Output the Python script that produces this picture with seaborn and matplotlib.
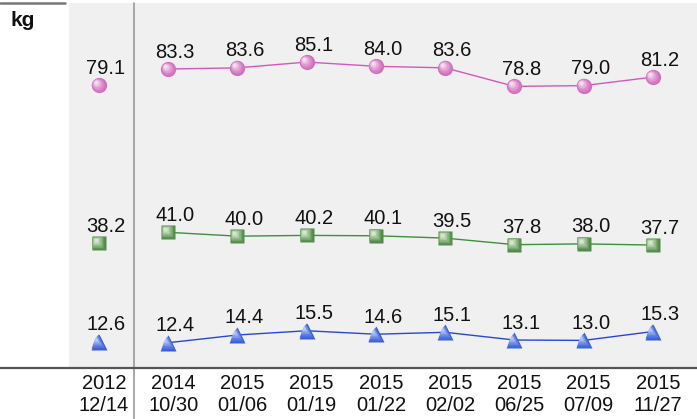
import matplotlib
matplotlib.use("Agg")
import matplotlib.pyplot as plt
import matplotlib.transforms as mtransforms
from matplotlib.colors import to_rgb
from matplotlib.lines import Line2D
import numpy as np
import pandas as pd
import seaborn as sns

# values
dates = ["2012\n12/14", "2014\n10/30", "2015\n01/06", "2015\n01/19", "2015\n01/22",
         "2015\n02/02", "2015\n06/25", "2015\n07/09", "2015\n11/27"]
weight = [79.1, 83.3, 83.6, 85.1, 84.0, 83.6, 78.8, 79.0, 81.2]
muscle = [38.2, 41.0, 40.0, 40.2, 40.1, 39.5, 37.8, 38.0, 37.7]
fat = [12.6, 12.4, 14.4, 15.5, 14.6, 15.1, 13.1, 13.0, 15.3]

# marker, dark shade, light shade, line colour, size
series = [
    (weight, "o", "#cf6fbb", "#f6dcf1", "#d458b8", 11),
    (muscle, "s", "#4f8a47", "#d4e6cc", "#3f8f3f", 10.5),
    (fat, "^", "#3a5fd8", "#b8c9f7", "#2548d6", 11),
]

sns.set_theme(style="white")
plt.rcParams["font.family"] = ["Liberation Sans", "DejaVu Sans"]

fig = plt.figure(figsize=(6.97, 4.19), dpi=100)
ax = fig.add_axes([69 / 697, 51 / 419, 628 / 697, 365 / 419])
ax.set_facecolor("#f0f0f0")

idx = list(range(len(dates)))
n_layers = 7
for vals, marker, dark, light, lcol, ms in series:
    df = pd.DataFrame({"i": idx, "v": vals})
    # first measurement stands alone, the rest are joined
    sns.lineplot(data=df[df.i > 0], x="i", y="v", color=lcol, lw=1, ax=ax,
                 legend=False)
    # soft shading: stack shrinking, lighter markers toward the upper left
    d, l = np.array(to_rgb(dark)), np.array(to_rgb(light))
    for k in range(n_layers):
        t = k / (n_layers - 1)
        col = d + (l - d) * t ** 1.3
        off = mtransforms.ScaledTranslation(-t * 0.03, t * 0.03, fig.dpi_scale_trans)
        ax.plot(df.i, df.v, ls="none", marker=marker, ms=ms * (1 - 0.75 * t),
                mfc=col, mec="none", zorder=3 + k * 0.01,
                transform=ax.transData + off)
    for i, v in zip(df.i, df.v):
        ax.annotate(f"{v:.1f}", (i, v), xytext=(7, 17), textcoords="offset pixels",
                    ha="center", va="center", fontsize=14.5, color="#111111",
                    zorder=5)

ax.set_xlim(-0.433, 8.636)
ax.set_ylim(5.85, 100.4)
ax.set_xlabel("")
ax.set_ylabel("")
ax.set_yticks([])
ax.set_xticks(idx)
ax.set_xticklabels(dates, fontsize=14.5, linespacing=1.2, color="#111111")
ax.tick_params(axis="x", length=0, pad=4)
shift = mtransforms.ScaledTranslation(5 / 100, 0, fig.dpi_scale_trans)
for lab in ax.get_xticklabels():
    lab.set_transform(lab.get_transform() + shift)
for s in ax.spines.values():
    s.set_visible(False)

# separator between first and later measurements
ax.axvline(0.5, ymin=-51 / 365, ymax=1, color="#999999", lw=1.2, clip_on=False)

# frame lines
fig.add_artist(Line2D([0, 1], [51 / 419, 51 / 419], color="#555555", lw=1.6,
                      transform=fig.transFigure))
fig.add_artist(Line2D([0, 65 / 697], [416 / 419, 416 / 419], color="#777777",
                      lw=1.8, transform=fig.transFigure))

fig.text(23 / 697, 1 - 20 / 419, "kg", ha="center", va="center", fontsize=15,
         fontweight="bold", color="#111111")

fig.savefig("out.png", dpi=100)
